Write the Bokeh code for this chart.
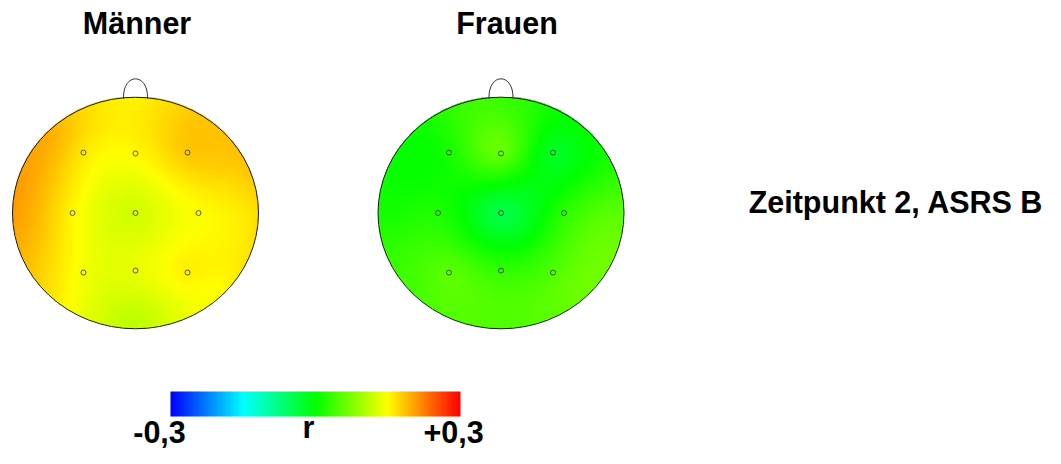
import numpy as np
from bokeh.plotting import figure
from bokeh.models import Range1d
from bokeh.embed import file_html
from bokeh.resources import INLINE
from bokeh.core.properties import value

# ---------------- data ----------------
group_titles = ["Männer", "Frauen"]
panel_label = "Zeitpunkt 2, ASRS B"
colorbar_labels = ["-0,3", "r", "+0,3"]
r_min, r_max = -0.3, 0.3

electrode_names = ["F3", "Fz", "F4", "C3", "Cz", "C4", "P3", "Pz", "P4"]
electrode_x = [-0.423, 0.0, 0.423, -0.512, 0.0, 0.512, -0.423, 0.0, 0.423]
electrode_y = [0.522, 0.514, 0.522, 0.0, 0.0, 0.0, -0.514, -0.497, -0.514]

maenner_r = [0.163, 0.153, 0.183, 0.155, 0.124, 0.150, 0.144, 0.138, 0.158]
frauen_r = [0.012, 0.059, -0.020, 0.018, -0.040, 0.024, 0.053, 0.029, 0.047]

edge_angles_deg = [0, 45, 90, 135, 180, 225, 270, 315]
maenner_edge_r = [0.166, 0.186, 0.158, 0.195, 0.205, 0.165, 0.112, 0.150]
frauen_edge_r = [0.053, 0.000, 0.035, 0.006, 0.012, 0.041, 0.047, 0.065]

cmap_pos = [0.0, 0.25, 0.5, 0.75, 1.0]
cmap_red = [0, 0, 0, 255, 255]
cmap_green = [0, 255, 255, 255, 0]
cmap_blue = [255, 255, 0, 0, 0]

# ---------------- helpers ----------------
def colorize(vals, mask=None):
    t = np.clip((np.asarray(vals) - r_min) / (r_max - r_min), 0, 1)
    img = np.zeros(t.shape, dtype=np.uint32)
    view = img.view(dtype=np.uint8).reshape(t.shape + (4,))
    view[..., 0] = np.interp(t, cmap_pos, cmap_red).astype(np.uint8)
    view[..., 1] = np.interp(t, cmap_pos, cmap_green).astype(np.uint8)
    view[..., 2] = np.interp(t, cmap_pos, cmap_blue).astype(np.uint8)
    view[..., 3] = 255 if mask is None else np.where(mask, 255, 0).astype(np.uint8)
    return img


def green_fn(d):
    with np.errstate(divide="ignore", invalid="ignore"):
        g = d ** 2 * (np.log(d) - 1.0)
    return np.where(d > 0, g, 0.0)


def biharmonic(px, py, pv, gx, gy):
    px, py, pv = np.asarray(px), np.asarray(py), np.asarray(pv)
    G = green_fn(np.hypot(px[:, None] - px[None, :], py[:, None] - py[None, :]))
    w = np.linalg.solve(G, pv)
    D = np.hypot(gx[..., None] - px, gy[..., None] - py)
    return green_fn(D) @ w


# ---------------- layout ----------------
REF_H = 464
W, H = 1045, 448
TXT_DY = 11.5   # renderer places the alphabetic baseline this much lower


def Y(ref_y):
    return REF_H - ref_y


def YT(ref_baseline):
    return REF_H - (ref_baseline - TXT_DY)


p = figure(width=W, height=H,
           x_range=Range1d(0, W),
           y_range=Range1d(REF_H - H, REF_H),
           output_backend="svg", toolbar_location=None, min_border=0)
p.axis.visible = False
p.grid.visible = False
p.outline_line_color = None
p.background_fill_color = "white"
p.border_fill_color = "white"

FONT = value("Liberation Sans")
FSIZE = value("30.5px")

heads = [
    dict(cx=135.0, title_x=136.5, vals=maenner_r, edge=maenner_edge_r),
    dict(cx=500.5, title_x=506.5, vals=frauen_r, edge=frauen_edge_r),
]
cy, rx, ry = Y(212.5), 123.0, 115.8
edge_rad = 0.95

for head in heads:
    cx = head["cx"]
    ex = np.cos(np.radians(edge_angles_deg)) * edge_rad
    ey = np.sin(np.radians(edge_angles_deg)) * edge_rad
    px = np.concatenate([electrode_x, ex])
    py = np.concatenate([electrode_y, ey])
    pv = np.concatenate([head["vals"], head["edge"]])

    nx, ny = int(round(2 * rx)), int(round(2 * ry))
    gxs = (np.arange(nx) + 0.5) / nx * 2 - 1
    gys = (np.arange(ny) + 0.5) / ny * 2 - 1
    GX, GY = np.meshgrid(gxs, gys)
    field = biharmonic(px, py, pv, GX, GY)
    mask = GX ** 2 + GY ** 2 <= 1.0
    img = colorize(field, mask)
    p.image_rgba(image=[img], x=cx - rx, y=cy - ry, dw=2 * rx, dh=2 * ry)

    p.ellipse(x=cx, y=cy, width=2 * rx, height=2 * ry, fill_color=None,
              line_color="#1a1a1a", line_width=1)
    top = cy + ry
    p.bezier(x0=cx - 12, y0=top - 1.5, x1=cx + 12, y1=top - 1.5,
             cx0=cx - 13, cy0=top + 25, cx1=cx + 13, cy1=top + 25,
             line_color="#333333", line_width=1)

    p.scatter(x=cx + np.asarray(electrode_x) * rx, y=cy + np.asarray(electrode_y) * ry,
              marker="circle", size=5, fill_color=None, line_color="#333333",
              line_width=0.8)

p.text(x=[h["title_x"] for h in heads], y=[YT(34.3)] * 2, text=group_titles,
       text_font=FONT, text_font_style="bold", text_font_size=FSIZE,
       text_align="center", text_baseline="alphabetic", text_color="black")

p.text(x=[1043], y=[YT(213)], text=[panel_label],
       text_font=FONT, text_font_style="bold", text_font_size=FSIZE,
       text_align="right", text_baseline="alphabetic", text_color="black")

# colour bar (lifted slightly so its labels fit inside the canvas)
cb_x0, cb_x1, cb_top, cb_bot = 170, 460, 391, 416
cb_vals = np.linspace(r_min, r_max, cb_x1 - cb_x0)[None, :]
p.image_rgba(image=[colorize(cb_vals)], x=cb_x0, y=Y(cb_bot),
             dw=cb_x1 - cb_x0, dh=cb_bot - cb_top)

p.text(x=[159, 453], y=[YT(443)] * 2, text=[colorbar_labels[0], colorbar_labels[2]],
       text_font=FONT, text_font_style="bold", text_font_size=FSIZE,
       text_align="center", text_baseline="alphabetic", text_color="black")
p.text(x=[308], y=[YT(438)], text=[colorbar_labels[1]],
       text_font=FONT, text_font_style="bold", text_font_size=FSIZE,
       text_align="center", text_baseline="alphabetic", text_color="black")

open("out.html", "w").write(file_html(p, INLINE))
